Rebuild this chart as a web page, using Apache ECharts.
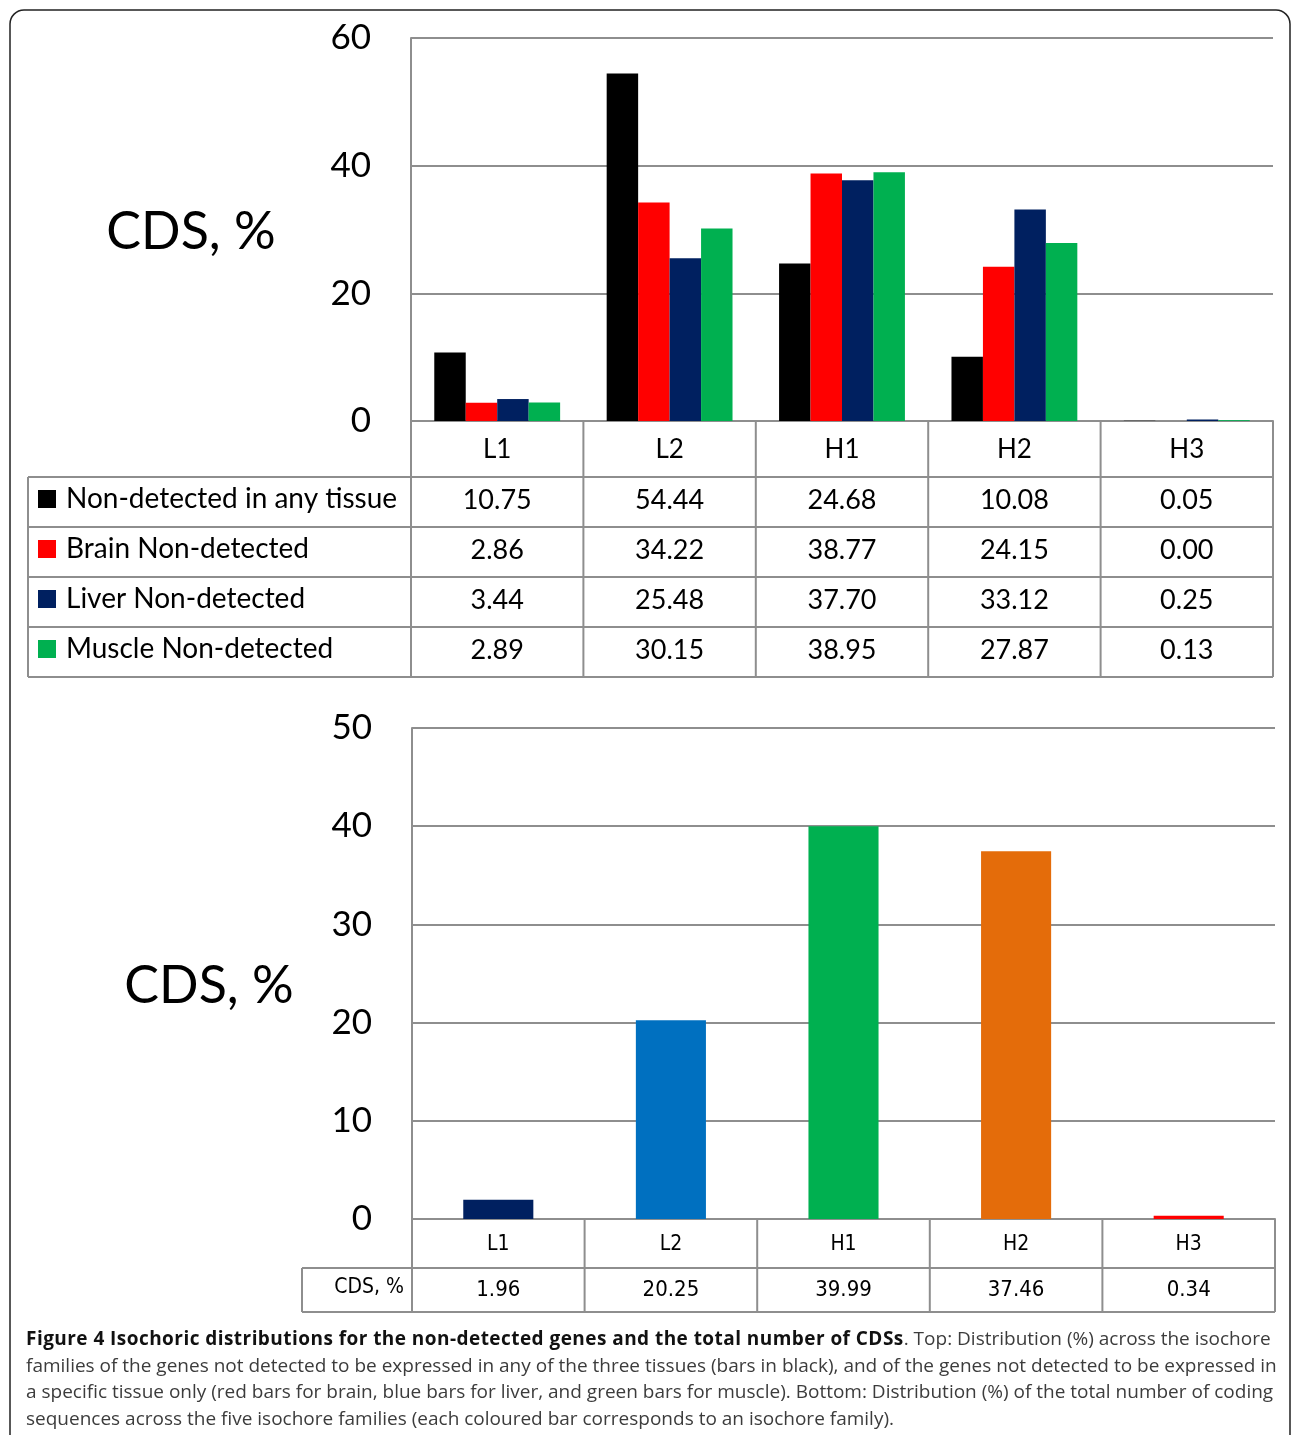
<!DOCTYPE html>
<html>
<head>
<meta charset="utf-8">
<script src="https://cdn.jsdelivr.net/npm/echarts@6/dist/echarts.min.js"></script>
<style>
  html, body { margin: 0; padding: 0; background: #fff; }
  #wrap { position: relative; width: 1292px; height: 1435px; overflow: hidden; }
  #chart { position: absolute; left: 0; top: 0; width: 1292px; height: 1435px; }
  #caption {
    position: absolute; left: 26px; top: 1325px; width: 1262px;
    font-family: "Open Sans", "Noto Sans", sans-serif; font-size: 19px;
    line-height: 26.7px; color: #3c3c3c; white-space: nowrap;
  }
  #caption b { color: #111; font-weight: 700; letter-spacing: 0.45px; }
</style>
</head>
<body>
<div id="wrap">
  <div id="chart"></div>
  <div id="caption"><b>Figure 4 Isochoric distributions for the non-detected genes and the total number of CDSs</b>. Top: Distribution (%) across the isochore<br>families of the genes not detected to be expressed in any of the three tissues (bars in black), and of the genes not detected to be expressed in<br>a specific tissue only (red bars for brain, blue bars for liver, and green bars for muscle). Bottom: Distribution (%) of the total number of coding<br>sequences across the five isochore families (each coloured bar corresponds to an isochore family).</div>
</div>
<script>
// Isochore families
const categories = ['L1', 'L2', 'H1', 'H2', 'H3'];

// Top panel: non-detected genes, % per isochore family
const seriesNames = ['Non-detected in any tissue', 'Brain Non-detected', 'Liver Non-detected', 'Muscle Non-detected'];
const nonDetectedAny = [10.75, 54.44, 24.68, 10.08, 0.05];
const brainNonDetected = [2.86, 34.22, 38.77, 24.15, 0.00];
const liverNonDetected = [3.44, 25.48, 37.70, 33.12, 0.25];
const muscleNonDetected = [2.89, 30.15, 38.95, 27.87, 0.13];
const topTicks = { min: 0, max: 60, interval: 20 };

// Bottom panel: all coding sequences, % per isochore family
const cdsLabel = 'CDS, %';
const cdsTotal = [1.96, 20.25, 39.99, 37.46, 0.34];
const bottomTicks = { min: 0, max: 50, interval: 10 };

const topValues = [nonDetectedAny, brainNonDetected, liverNonDetected, muscleNonDetected];
const topColors = ['#000000', '#ff0000', '#002060', '#00b050'];
const familyColors = ['#002060', '#0070c0', '#00b050', '#e46c0a', '#ff0000'];

const FONT = 'Lato, "Open Sans", sans-serif';
const TABLE_FONT = '"DejaVu Sans Condensed", "DejaVu Sans", sans-serif';
const LINE = '#8e8e8e';

// plot areas
const TOP = { left: 411, top: 38, right: 1273, bottom: 421 };
const BOT = { left: 412, top: 728, right: 1275, bottom: 1219 };

const chart = echarts.init(document.getElementById('chart'), null, { renderer: 'canvas' });

function hLine(x1, x2, y) {
  return { type: 'line', silent: true, shape: { x1, y1: y, x2, y2: y }, style: { stroke: LINE, lineWidth: 2 } };
}
function vLine(x, y1, y2) {
  return { type: 'line', silent: true, shape: { x1: x, y1, x2: x, y2 }, style: { stroke: LINE, lineWidth: 2 } };
}
function text(x, y, str, size, align, font, extra) {
  return Object.assign({
    type: 'text', silent: true, x, y,
    style: { text: str, fontSize: size, fontFamily: font || FONT, fill: '#000', align: align || 'center', verticalAlign: 'middle' }
  }, extra || {});
}

const graphics = [];

// outer frame
graphics.push({
  type: 'rect', silent: true,
  shape: { x: 10, y: 10, width: 1280, height: 1440, r: 14 },
  style: { fill: 'none', stroke: '#222', lineWidth: 1.5 }
});

// axis titles
graphics.push(text(191, 232, 'CDS, %', 52));
graphics.push(text(209, 986, 'CDS, %', 52));

// top data table
const topColW = (TOP.right - TOP.left) / categories.length;
const topRowY = [477, 527, 577, 627, 677];
const tableLeft = 28;
topRowY.forEach(y => graphics.push(hLine(tableLeft, TOP.right, y)));
graphics.push(vLine(tableLeft, topRowY[0], topRowY[topRowY.length - 1]));
for (let i = 0; i <= categories.length; i++) {
  graphics.push(vLine(TOP.left + i * topColW, TOP.bottom, topRowY[topRowY.length - 1]));
}
seriesNames.forEach((name, r) => {
  const cy = (topRowY[r] + topRowY[r + 1]) / 2 - 3;
  graphics.push({ type: 'rect', silent: true, shape: { x: 38, y: cy - 9, width: 18, height: 18 }, style: { fill: topColors[r] } });
  graphics.push(text(66, cy, name, 28, 'left'));
  topValues[r].forEach((v, c) => {
    graphics.push(text(TOP.left + (c + 0.5) * topColW, cy + 1, v.toFixed(2), 27));
  });
});

// bottom data table
const botColW = (BOT.right - BOT.left) / categories.length;
const botRowY = [1268, 1312];
const botTableLeft = 302;
botRowY.forEach(y => graphics.push(hLine(botTableLeft, BOT.right, y)));
graphics.push(vLine(botTableLeft, botRowY[0], botRowY[1]));
for (let i = 0; i <= categories.length; i++) {
  graphics.push(vLine(BOT.left + i * botColW, BOT.bottom, botRowY[1]));
}
const botCy = (botRowY[0] + botRowY[1]) / 2;
graphics.push(text(404, botCy - 2, cdsLabel, 21, 'right', TABLE_FONT));
cdsTotal.forEach((v, c) => {
  graphics.push(text(BOT.left + (c + 0.5) * botColW, botCy, v.toFixed(2), 22, 'center', TABLE_FONT));
});

const splitLine = { show: true, lineStyle: { color: LINE, width: 2 } };
const axisLine = { show: true, lineStyle: { color: LINE, width: 2 } };

chart.setOption({
  animation: false,
  backgroundColor: '#fff',
  grid: [
    { left: TOP.left, top: TOP.top, width: TOP.right - TOP.left, height: TOP.bottom - TOP.top },
    { left: BOT.left, top: BOT.top, width: BOT.right - BOT.left, height: BOT.bottom - BOT.top }
  ],
  xAxis: [
    {
      type: 'category', gridIndex: 0, data: categories,
      axisLine, axisTick: { show: false },
      axisLabel: { fontSize: 26, fontFamily: FONT, color: '#000', margin: 16 }
    },
    {
      type: 'category', gridIndex: 1, data: categories,
      axisLine, axisTick: { show: false },
      axisLabel: { fontSize: 21, fontFamily: TABLE_FONT, color: '#000', margin: 15 }
    }
  ],
  yAxis: [
    {
      type: 'value', gridIndex: 0, min: topTicks.min, max: topTicks.max, interval: topTicks.interval,
      axisLine, axisTick: { show: false }, splitLine,
      axisLabel: { fontSize: 35, fontFamily: FONT, color: '#000', margin: 40 }
    },
    {
      type: 'value', gridIndex: 1, min: bottomTicks.min, max: bottomTicks.max, interval: bottomTicks.interval,
      axisLine, axisTick: { show: false }, splitLine,
      axisLabel: { fontSize: 35, fontFamily: FONT, color: '#000', margin: 40 }
    }
  ],
  series: topValues.map((vals, i) => ({
    name: seriesNames[i], type: 'bar', xAxisIndex: 0, yAxisIndex: 0,
    data: vals, barGap: '0%', barCategoryGap: '27%',
    itemStyle: { color: topColors[i] }
  })).concat([{
    name: cdsLabel, type: 'bar', xAxisIndex: 1, yAxisIndex: 1,
    barWidth: '40.6%',
    data: cdsTotal.map((v, i) => ({ value: v, itemStyle: { color: familyColors[i] } }))
  }]),
  graphic: graphics
});
</script>
</body>
</html>
